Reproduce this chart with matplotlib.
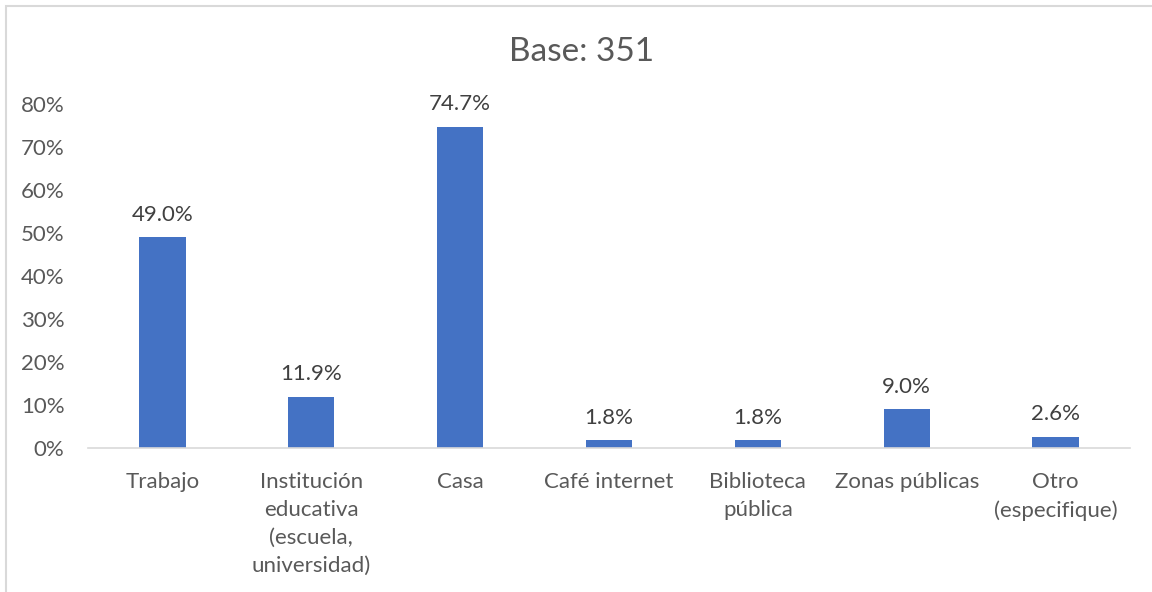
import numpy as np
import matplotlib.pyplot as plt
from matplotlib.patches import Rectangle

categorias = ["Trabajo", "Institución\neducativa\n(escuela,\nuniversidad)", "Casa",
              "Café internet", "Biblioteca\npública", "Zonas públicas", "Otro\n(especifique)"]
valores = [0.490, 0.119, 0.747, 0.018, 0.018, 0.090, 0.026]
ticks_y = [0, 0.1, 0.2, 0.3, 0.4, 0.5, 0.6, 0.7, 0.8]
titulo = "Base: 351"

plt.rcParams['font.family'] = ['Lato', 'DejaVu Sans']
gris = '#595959'

fig = plt.figure(figsize=(11.52, 5.92), dpi=100)
ax = fig.add_axes([88/1152, 1 - 448/592, 1042/1152, 344/592])

x = np.arange(len(categorias))
ax.bar(x, valores, width=0.31, color='#4472C4')
for xi, v in zip(x, valores):
    ax.text(xi, v + 0.029, f"{v*100:.1f}%", ha='center', va='bottom', fontsize=16, color='#404040')

ax.set_xlim(-0.5, len(categorias) - 0.5)
ax.set_ylim(0, 0.8)
ax.set_yticks(ticks_y)
ax.set_yticklabels([f"{int(round(t*100))}%" for t in ticks_y])
ax.set_xticks(x)
ax.set_xticklabels(categorias, linespacing=1.5)
ax.tick_params(axis='both', length=0, labelsize=16, labelcolor=gris)
ax.tick_params(axis='y', pad=17)
ax.tick_params(axis='x', pad=17)
for s in ['top', 'right', 'left']:
    ax.spines[s].set_visible(False)
ax.spines['bottom'].set_color('#D9D9D9')
ax.spines['bottom'].set_linewidth(1.2)

fig.text(582/1152, 1 - 52/592, titulo, ha='center', va='center', fontsize=24, color=gris)

# marco del gráfico
fig.patches.append(Rectangle((6/1152, -0.05), 1.1, 1 - 6/592 + 0.05, transform=fig.transFigure,
                             fill=False, edgecolor='#D9D9D9', linewidth=1.5))

fig.savefig("out.png", dpi=100)
